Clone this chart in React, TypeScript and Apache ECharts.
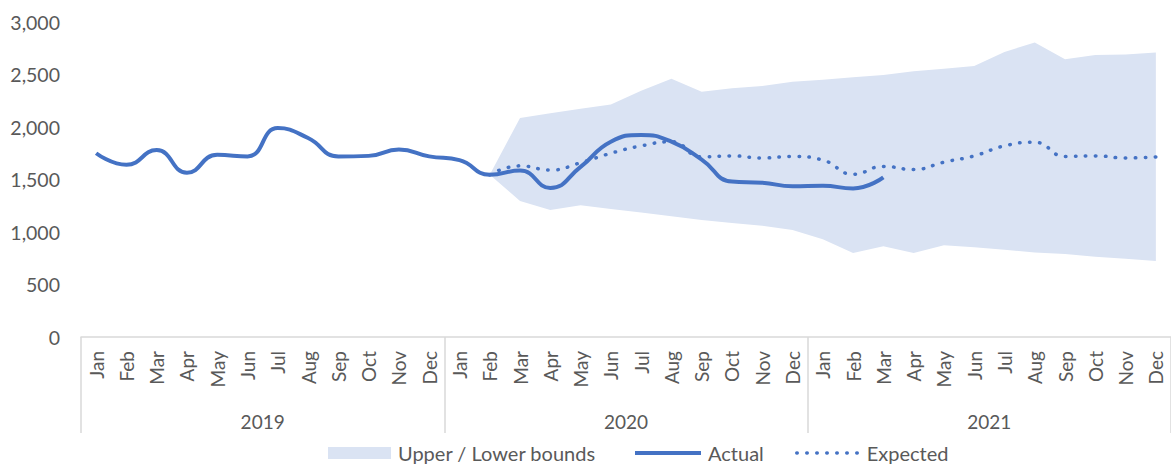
import React, { useEffect, useRef } from 'react';
import * as echarts from 'echarts';

const years = ['2019', '2020', '2021'];
const monthNames = ['Jan', 'Feb', 'Mar', 'Apr', 'May', 'Jun', 'Jul', 'Aug', 'Sep', 'Oct', 'Nov', 'Dec'];

// Actual: Jan 2019 .. Mar 2021
const actual = [
  1750, 1640, 1780, 1565, 1735, 1720, 1990, 1895, 1720, 1725, 1785, 1720,
  1685, 1545, 1585, 1420, 1620, 1860, 1925, 1860, 1690, 1480, 1470, 1435,
  1440, 1415, 1520,
];

// Forecast series start at Feb 2020 (index 13)
const forecastStart = 13;
const expected = [
  1545, 1630, 1590, 1660, 1750, 1820, 1860, 1715, 1725, 1705, 1720,
  1685, 1550, 1625, 1595, 1665, 1725, 1820, 1855, 1720, 1725, 1705, 1715,
];
const upper = [
  1545, 2085, 2130, 2175, 2215, 2345, 2460, 2335, 2370, 2390, 2430,
  2450, 2475, 2495, 2530, 2555, 2580, 2715, 2805, 2645, 2685, 2690, 2710,
];
const lower = [
  1545, 1295, 1210, 1255, 1220, 1185, 1150, 1115, 1085, 1060, 1020,
  930, 800, 865, 800, 875, 855, 830, 805, 790, 765, 745, 725,
];

const yTicks = { min: 0, max: 3000, interval: 500 };

const FONT = 'Lato';
const TEXT = '#595959';
const LINE_BLUE = '#4472C4';
const BAND = '#DAE3F3';
const AXIS_GRAY = '#D9D9D9';
const DOTS = [0.5, 9.5];

export default function App() {
  const ref = useRef<HTMLDivElement>(null);

  useEffect(() => {
    if (!ref.current) return;
    const chart = echarts.init(ref.current, undefined, { renderer: 'svg' });

    const categories = years.flatMap(() => monthNames);
    const n = categories.length;
    const pad = (k: number) => Array(k).fill('-');

    const actualData = [...actual, ...pad(n - actual.length)];
    const expectedData = [...pad(forecastStart), ...expected];
    const lowerData = [...pad(forecastStart), ...lower];
    const bandData = [...pad(forecastStart), ...upper.map((u, i) => u - lower[i])];

    const legendBase = {
      top: 443,
      padding: 0,
      itemHeight: 12,
      textStyle: { color: TEXT, fontSize: 20, fontFamily: FONT, padding: [0, 0, 0, 2] },
    };

    chart.setOption({
      animation: false,
      textStyle: { fontFamily: FONT },
      grid: { left: 81, right: -2, top: 22, bottom: 127, containLabel: false },
      legend: [
        {
          ...legendBase,
          left: 328,
          itemWidth: 63,
          data: [{ name: 'Upper / Lower bounds', icon: 'rect', itemStyle: { color: BAND } }],
        },
        {
          ...legendBase,
          left: 633,
          itemWidth: 66,
          data: [
            {
              name: 'Actual',
              itemStyle: { opacity: 0 },
              lineStyle: { width: 4, color: LINE_BLUE, type: 'solid' },
            },
          ],
        },
        {
          ...legendBase,
          left: 795,
          itemWidth: 63,
          data: [
            {
              name: 'Expected',
              itemStyle: { opacity: 0 },
              lineStyle: { width: 3.5, color: LINE_BLUE, type: DOTS, cap: 'round' },
            },
          ],
        },
      ],
      xAxis: [
        {
          type: 'category',
          data: categories,
          boundaryGap: true,
          position: 'bottom',
          axisLine: { show: true, lineStyle: { color: AXIS_GRAY, width: 1.5 } },
          axisTick: { show: false },
          axisLabel: {
            interval: 0,
            rotate: 90,
            margin: 14,
            color: TEXT,
            fontSize: 19,
            fontFamily: FONT,
          },
        },
        {
          type: 'category',
          data: years,
          boundaryGap: true,
          position: 'bottom',
          offset: 0,
          axisLine: { show: false },
          axisTick: { show: true, length: 96, lineStyle: { color: AXIS_GRAY, width: 1.5 } },
          axisLabel: { margin: 75, color: TEXT, fontSize: 19, fontFamily: FONT },
        },
      ],
      yAxis: {
        type: 'value',
        min: yTicks.min,
        max: yTicks.max,
        interval: yTicks.interval,
        axisLine: { show: false },
        axisTick: { show: false },
        splitLine: { show: false },
        axisLabel: {
          margin: 21,
          color: TEXT,
          fontSize: 19.5,
          fontFamily: FONT,
          formatter: (v: number) => v.toLocaleString('en-US'),
        },
      },
      series: [
        {
          name: 'lowerBase',
          type: 'line',
          stack: 'band',
          data: lowerData,
          symbol: 'none',
          lineStyle: { width: 0, opacity: 0 },
          silent: true,
          z: 1,
        },
        {
          name: 'Upper / Lower bounds',
          type: 'line',
          stack: 'band',
          data: bandData,
          symbol: 'none',
          itemStyle: { color: BAND },
          lineStyle: { width: 0, color: BAND, opacity: 0 },
          areaStyle: { color: BAND, opacity: 1 },
          silent: true,
          z: 1,
        },
        {
          name: 'Expected',
          type: 'line',
          data: expectedData,
          symbol: 'none',
          smooth: 0.5,
          itemStyle: { color: LINE_BLUE },
          lineStyle: { color: LINE_BLUE, width: 3.5, type: DOTS, cap: 'round' },
          z: 3,
        },
        {
          name: 'Actual',
          type: 'line',
          data: actualData,
          symbol: 'none',
          smooth: 0.5,
          itemStyle: { color: LINE_BLUE },
          lineStyle: { color: LINE_BLUE, width: 4 },
          z: 4,
        },
      ],
    });

    return () => chart.dispose();
  }, []);

  return (
    <div
      ref={ref}
      style={{ position: 'absolute', left: 0, top: 0, width: 1171, height: 464 }}
    />
  );
}
